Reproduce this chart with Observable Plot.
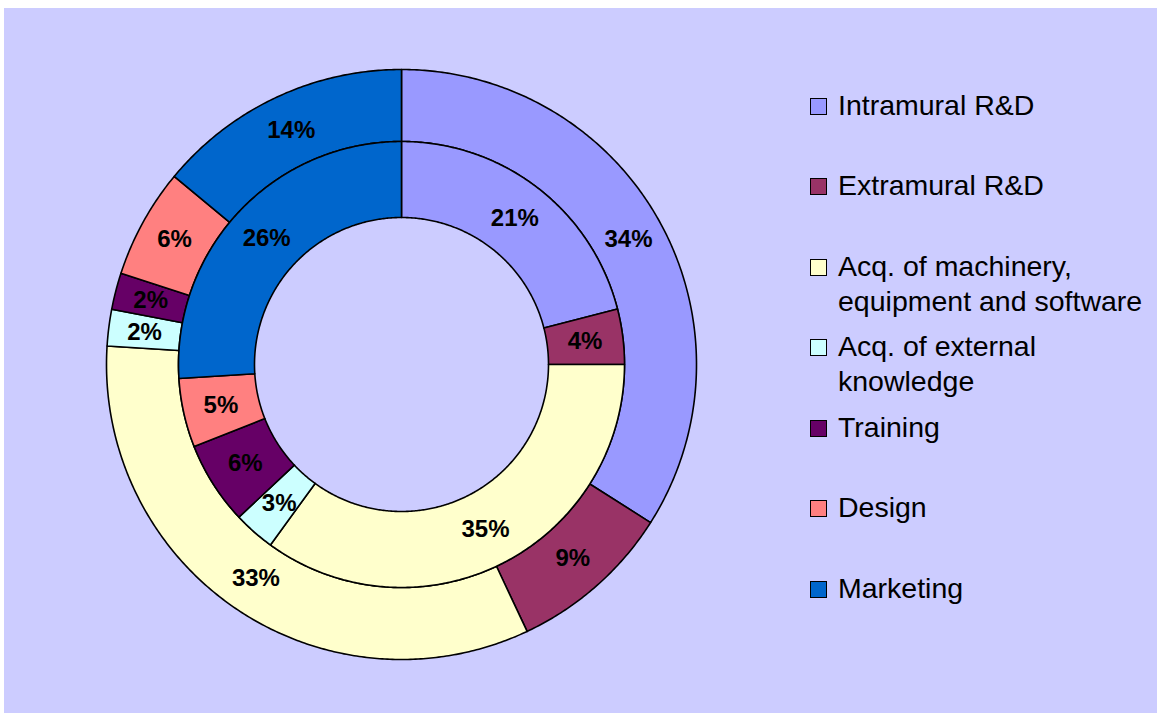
<!DOCTYPE html>
<html><head><meta charset="utf-8">
<script src="https://cdn.jsdelivr.net/npm/d3@7"></script>
<script src="https://cdn.jsdelivr.net/npm/@observablehq/plot@0.6"></script>
<style>
html,body{margin:0;padding:0;background:#fff;}
#page{position:relative;width:1157px;height:713px;overflow:hidden;font-family:"Liberation Sans",Arial,sans-serif;}
#frame{position:absolute;left:4px;top:8px;width:1153px;height:705px;background:#CCCCFF;}
#chart{position:absolute;left:0;top:0;}
.item{position:absolute;left:810px;font-size:28.5px;line-height:35px;color:#000;white-space:pre;}
.box{position:absolute;left:0;width:17px;height:17px;box-sizing:border-box;border:1.5px solid #000;}
.lbl{position:absolute;left:28px;top:0;}
</style></head>
<body><div id="page"><div id="frame"></div><div id="chart"></div><div id="legend"></div></div>
<script>
// Data
const categories = ["Intramural R&D","Extramural R&D","Acq. of machinery, equipment and software","Acq. of external knowledge","Training","Design","Marketing"];
const legendText = ["Intramural R&D","Extramural R&D","Acq. of machinery,\nequipment and software","Acq. of external\nknowledge","Training","Design","Marketing"];
const outerShares = [34,9,33,2,2,6,14];
const innerShares = [21,4,35,3,6,5,26];
const colors = ["#9999FF","#993366","#FFFFCC","#CCFFFF","#660066","#FF8080","#0066CC"];

// ring radii (relative to outer radius)
const R_OUT = 1, R_MID = 223/295, R_IN = 147/295;

function ring(values, r0, r1, name){
  const total = d3.sum(values);
  let acc = 0;
  return values.map((v,i)=>{
    const a0 = acc/total*2*Math.PI; acc += v; const a1 = acc/total*2*Math.PI;
    return {ring:name, idx:i, category:categories[i], value:v, a0, a1, r0, r1};
  });
}
const slices = [...ring(outerShares, R_MID, R_OUT, "outer"), ...ring(innerShares, R_IN, R_MID, "inner")];

function outline(s){
  const n = Math.max(2, Math.ceil((s.a1-s.a0)/(Math.PI/360)));
  const pts = [];
  for(let k=0;k<=n;k++){const a=s.a0+(s.a1-s.a0)*k/n; pts.push([s.r1*Math.sin(a), s.r1*Math.cos(a)]);}
  for(let k=n;k>=0;k--){const a=s.a0+(s.a1-s.a0)*k/n; pts.push([s.r0*Math.sin(a), s.r0*Math.cos(a)]);}
  pts.push(pts[0]);
  return pts.map(p=>({x:p[0], y:p[1], id:s.ring+"-"+s.idx, category:s.category}));
}
const pathPoints = slices.flatMap(outline);

const chart = Plot.plot({
  width: 800, height: 713,
  marginLeft: 106, marginRight: 104, marginTop: 69, marginBottom: 54,
  x: {domain:[-1,1], axis:null},
  y: {domain:[-1,1], axis:null},
  color: {domain: categories, range: colors},
  style: {background:"transparent", fontFamily:"'Liberation Sans', Arial, sans-serif", overflow:"visible"},
  marks: [
    Plot.line(pathPoints, {x:"x", y:"y", z:"id", fill:"category", stroke:"#000", strokeWidth:1.6, strokeLinejoin:"round"}),
    Plot.text(slices, {
      x: d => (d.r0+d.r1)/2*Math.sin((d.a0+d.a1)/2),
      y: d => (d.r0+d.r1)/2*Math.cos((d.a0+d.a1)/2),
      text: d => d.value + "%",
      fontSize: 24, fontWeight: "bold", fill: "#000"
    })
  ]
});
document.getElementById("chart").appendChild(chart);

// Legend
const legend = document.getElementById("legend");
const firstBaseline = 115, step = 80.5, baselineOffset = 27.2;
legendText.forEach((t,i)=>{
  const item = document.createElement("div");
  item.className = "item";
  item.style.top = (firstBaseline + i*step - baselineOffset) + "px";
  const box = document.createElement("div");
  box.className = "box";
  box.style.top = (baselineOffset - 17) + "px";
  box.style.background = colors[i];
  const lbl = document.createElement("div");
  lbl.className = "lbl";
  lbl.textContent = t;
  item.appendChild(box); item.appendChild(lbl);
  legend.appendChild(item);
});
</script>
</body></html>
